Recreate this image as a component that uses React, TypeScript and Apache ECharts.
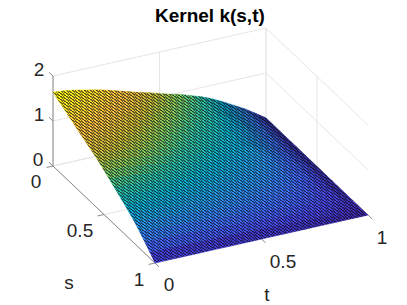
import React, { useEffect, useRef } from "react";
import * as echarts from "echarts";

const titleText = "Kernel k(s,t)";
const zTicks = [0, 1, 2];
const sTicks = [0, 0.5, 1];
const tTicks = [0, 0.5, 1];

// k(s,t): one row per s (0 .. 1 in steps of 0.05), one column per t (same steps)
const kRows: number[][] = [
  [1.64,1.62,1.58,1.53,1.48,1.42,1.35,1.28,1.21,1.15,1.08,1.01,.95,.87,.79,.69,.57,.44,.31,.16,0],
  [1.57,1.56,1.52,1.47,1.42,1.36,1.30,1.23,1.16,1.10,1.04,.97,.91,.84,.76,.66,.55,.42,.30,.15,0],
  [1.51,1.49,1.45,1.41,1.36,1.31,1.24,1.18,1.11,1.06,.99,.93,.87,.80,.73,.63,.52,.40,.29,.15,0],
  [1.44,1.43,1.39,1.35,1.30,1.25,1.19,1.13,1.06,1.01,.95,.89,.84,.77,.70,.61,.50,.38,.27,.14,0],
  [1.38,1.36,1.33,1.29,1.24,1.19,1.13,1.08,1.02,.97,.91,.85,.80,.73,.66,.58,.48,.36,.26,.13,0],
  [1.31,1.30,1.26,1.22,1.18,1.14,1.08,1.02,.97,.92,.86,.81,.76,.70,.63,.55,.46,.34,.25,.13,0],
  [1.25,1.23,1.20,1.16,1.12,1.08,1.03,.97,.92,.87,.82,.77,.72,.66,.60,.52,.43,.33,.24,.12,0],
  [1.19,1.17,1.15,1.11,1.07,1.03,.98,.93,.88,.83,.78,.73,.69,.63,.57,.50,.41,.31,.22,.12,0],
  [1.13,1.12,1.09,1.06,1.02,.98,.93,.88,.83,.79,.75,.70,.66,.60,.55,.48,.39,.30,.21,.11,0],
  [1.06,1.04,1.02,.99,.95,.92,.87,.83,.78,.74,.70,.65,.61,.56,.51,.45,.37,.28,.20,.10,0],
  [.98,.97,.95,.92,.89,.85,.81,.77,.73,.69,.65,.61,.57,.52,.47,.41,.34,.26,.19,.10,0],
  [.90,.89,.87,.84,.81,.78,.74,.70,.67,.63,.59,.56,.52,.48,.43,.38,.31,.24,.17,.09,0],
  [.82,.81,.79,.77,.74,.71,.68,.64,.61,.58,.54,.51,.48,.44,.40,.35,.29,.22,.16,.08,0],
  [.74,.73,.71,.69,.67,.64,.61,.58,.54,.52,.49,.45,.43,.39,.36,.31,.26,.19,.14,.07,0],
  [.66,.65,.63,.61,.59,.57,.54,.51,.48,.46,.43,.40,.38,.35,.32,.28,.23,.17,.12,.06,0],
  [.57,.56,.55,.53,.51,.49,.47,.44,.42,.40,.37,.35,.33,.30,.27,.24,.20,.15,.11,.06,0],
  [.48,.47,.46,.44,.43,.41,.39,.37,.35,.33,.31,.29,.28,.25,.23,.20,.17,.12,.09,.05,0],
  [.37,.36,.36,.34,.33,.32,.30,.29,.27,.26,.24,.23,.21,.20,.18,.16,.13,.10,.07,.04,0],
  [.25,.25,.24,.24,.23,.22,.21,.20,.19,.18,.17,.16,.15,.13,.12,.11,.09,.07,.05,.02,0],
  [.13,.13,.13,.12,.12,.11,.11,.10,.10,.09,.09,.08,.08,.07,.06,.06,.05,.03,.02,.01,0],
  [0,0,0,0,0,0,0,0,0,0,0,0,0,0,0,0,0,0,0,0,0],
];

const parulaStops = [0, .125, .25, .375, .5, .6, .68, .76, .85, 1];
const parula: number[][] = [
  [.2422,.1504,.6603],[.2803,.2782,.9221],[.2440,.4358,.9988],[.1540,.5902,.9218],[.0297,.7082,.8163],
  [.1938,.7758,.6251],[.5044,.7993,.3480],[.8000,.7400,.2000],[.9900,.7500,.2400],[.9763,.9831,.0538],
];

const W = 407, H = 305;
const O = { x: 53, y: 166 };
const SV = { x: 102, y: 97 };
const TV = { x: 213, y: -48 };
const ZU = 45;
const FONT = "'Liberation Sans', Arial, sans-serif";
const INK = "#262626";
const AXIS = "#8a8a8a";
const GRID = "#e6e6e6";
const FS = 19;

const N = kRows.length - 1, M = kRows[0].length - 1;
const zMax = Math.max(...kRows.map((r) => Math.max(...r)));

const project = (s: number, t: number, z: number) => [
  O.x + SV.x * s + TV.x * t,
  O.y + SV.y * s + TV.y * t - ZU * z,
];

function colorOf(v: number, shade: number) {
  const r = Math.pow(Math.min(0.9999, Math.max(0, v / zMax)), 0.72);
  let i = 0;
  while (r > parulaStops[i + 1]) i++;
  const f = (r - parulaStops[i]) / (parulaStops[i + 1] - parulaStops[i]);
  const c = parula[i].map((a, k) => (a + (parula[i + 1][k] - a) * f) * shade * 255);
  return `rgb(${c.map((x) => Math.round(x)).join(",")})`;
}

function makeTile() {
  const size = 12;
  const c = document.createElement("canvas");
  c.width = size; c.height = size;
  const g = c.getContext("2d")!;
  for (let y = 0; y < size; y++) for (let x = 0; x < size; x++) {
    const sLine = (x - y + size) % 3 === 0;
    const tLine = (x + 4 * y) % 6 < 2;
    if (sLine || tLine) { g.fillStyle = `rgba(10,10,20,${sLine && tLine ? 0.75 : 0.55})`; g.fillRect(x, y, 1, 1); }
  }
  return c;
}

export default function App() {
  const ref = useRef<HTMLDivElement>(null);
  useEffect(() => {
    const chart = echarts.init(ref.current!, null, { renderer: "svg" });
    const cells: number[][] = [];
    for (let i = 0; i < N; i++) for (let j = M - 1; j >= 0; j--) cells.push([i, j]);
    const tile = makeTile();

    const line = (api: any, a: number[], b: number[], stroke: string, w = 1) => {
      const p = api.coord(a), q = api.coord(b);
      return { type: "line", shape: { x1: p[0], y1: p[1], x2: q[0], y2: q[1] }, style: { stroke, lineWidth: w } };
    };
    const label = (api: any, text: string, x: number, y: number) => {
      const p = api.coord([x, y]);
      return { type: "text", x: p[0], y: p[1], style: { text, fill: INK, font: `${FS}px ${FONT}`, align: "center", verticalAlign: "middle" } };
    };

    const frameBack = (_: any, api: any) => {
      const ch: any[] = [];
      zTicks.forEach((z) => {
        ch.push(line(api, project(0, 0, z), project(0, 1, z), GRID));
        ch.push(line(api, project(0, 1, z), project(1, 1, z), GRID));
      });
      tTicks.forEach((t) => ch.push(line(api, project(0, t, 0), project(0, t, 2), GRID)));
      sTicks.forEach((s) => { if (s < 1) ch.push(line(api, project(s, 1, 0), project(s, 1, 2), GRID)); });
      sTicks.forEach((s) => ch.push(line(api, project(s, 0, 0), project(s, 1, 0), GRID)));
      tTicks.forEach((t) => ch.push(line(api, project(0, t, 0), project(1, t, 0), GRID)));
      ch.push(line(api, project(0, 0, 0), project(0, 0, 2), AXIS));
      ch.push(line(api, project(0, 0, 0), project(1, 0, 0), AXIS));
      zTicks.forEach((z) => ch.push(line(api, project(0, 0, z), project(-0.04, 0, z), AXIS)));
      sTicks.forEach((s) => ch.push(line(api, project(s, 0, 0), project(s, -0.03, 0), AXIS)));
      tTicks.forEach((t) => ch.push(line(api, project(1, t, 0), project(1.04, t, 0), AXIS)));
      return { type: "group", children: ch };
    };

    const surfaceCell = (_: any, api: any) => {
      const i = api.value(0), j = api.value(1);
      const sA = i / N, sB = (i + 1) / N, tA = j / M, tB = (j + 1) / M;
      const pts = [
        project(sA, tA, kRows[i][j]), project(sA, tB, kRows[i][j + 1]),
        project(sB, tB, kRows[i + 1][j + 1]), project(sB, tA, kRows[i + 1][j]),
      ];
      const zc = (kRows[i][j] + kRows[i][j + 1] + kRows[i + 1][j + 1] + kRows[i + 1][j]) / 4;
      const ax = pts[1][0] - pts[0][0], ay = pts[1][1] - pts[0][1];
      const bx = pts[3][0] - pts[0][0], by = pts[3][1] - pts[0][1];
      const area = Math.abs(ax * by - ay * bx);
      const flat = Math.abs(TV.x * SV.y - TV.y * SV.x) / (N * M);
      const shade = Math.max(0.3, Math.min(1, 0.2 + 0.8 * (area / flat)));
      const fill = colorOf(zc, shade);
      return {
        type: "polygon",
        shape: { points: pts.map((p) => api.coord(p)) },
        style: { fill, stroke: fill, lineWidth: 0.6 },
      };
    };

    const meshOverlay = (_: any, api: any) => {
      const pts: number[][] = [];
      for (let j = 0; j <= M; j++) pts.push(project(0, j / M, kRows[0][j]));
      for (let i = 1; i <= N; i++) pts.push(project(i / N, 1, kRows[i][M]));
      for (let j = M - 1; j >= 0; j--) pts.push(project(1, j / M, kRows[N][j]));
      for (let i = N - 1; i > 0; i--) pts.push(project(i / N, 0, kRows[i][0]));
      return {
        type: "polygon",
        shape: { points: pts.map((p) => api.coord(p)) },
        style: { fill: { image: tile, repeat: "repeat" }, stroke: "none" },
      };
    };

    const labels = (_: any, api: any) => ({
      type: "group",
      children: [
        label(api, "2", 39, 69), label(api, "1", 39, 114), label(api, "0", 38, 159),
        label(api, "0", 36, 181), label(api, "0.5", 80, 230), label(api, "1", 139, 279),
        label(api, "s", 69, 282),
        label(api, "0", 169, 284), label(api, "0.5", 283, 261), label(api, "1", 382, 237),
        label(api, "t", 267, 294),
      ],
    });

    chart.setOption({
      animation: false,
      backgroundColor: "#fff",
      title: {
        text: titleText, left: 150, top: 1,
        textStyle: { fontFamily: FONT, fontSize: 19, fontWeight: "bold", color: "#000" },
      },
      grid: { left: 0, right: 0, top: 0, bottom: 0 },
      xAxis: { type: "value", min: 0, max: W, show: false },
      yAxis: { type: "value", min: 0, max: H, inverse: true, show: false },
      series: [
        { type: "custom", coordinateSystem: "cartesian2d", clip: false, silent: true, data: [[0, 0]], renderItem: frameBack, z: 1 },
        { type: "custom", coordinateSystem: "cartesian2d", clip: false, silent: true, data: cells, renderItem: surfaceCell, z: 2 },
        { type: "custom", coordinateSystem: "cartesian2d", clip: false, silent: true, data: [[0, 0]], renderItem: meshOverlay, z: 3 },
        { type: "custom", coordinateSystem: "cartesian2d", clip: false, silent: true, data: [[0, 0]], renderItem: labels, z: 4 },
      ],
    });
    return () => chart.dispose();
  }, []);
  return <div ref={ref} style={{ position: "absolute", left: 0, top: 0, width: W, height: H }} />;
}
